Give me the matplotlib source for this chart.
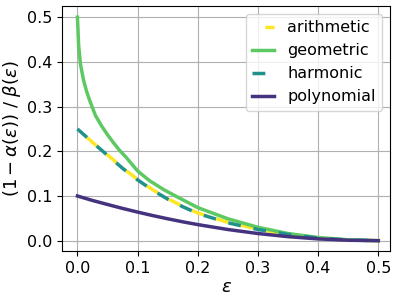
import numpy as np
import matplotlib
matplotlib.use("Agg")
import matplotlib.pyplot as plt

# values
eps_geo = [0, 0.002, 0.005, 0.01, 0.015, 0.02, 0.03, 0.04, 0.05, 0.06, 0.07, 0.08,
           0.1, 0.12, 0.145, 0.17, 0.2, 0.25, 0.3, 0.35, 0.4, 0.45, 0.5]
geometric = [0.5, 0.438, 0.395, 0.36, 0.335, 0.315, 0.28, 0.257, 0.237, 0.219, 0.202, 0.188,
             0.156, 0.134, 0.113, 0.095, 0.074, 0.049, 0.03, 0.016, 0.007, 0.002, 0.0]

eps = [0, 0.025, 0.05, 0.075, 0.1, 0.125, 0.15, 0.175, 0.2, 0.25, 0.3, 0.35, 0.4, 0.45, 0.5]
arithmetic = [0.25, 0.22, 0.192, 0.163, 0.137, 0.114, 0.094, 0.077, 0.062, 0.041, 0.026, 0.014, 0.006, 0.0015, 0.0]
harmonic = [0.25, 0.22, 0.191, 0.162, 0.136, 0.113, 0.093, 0.076, 0.061, 0.04, 0.025, 0.014, 0.006, 0.0015, 0.0]
polynomial = [0.1, 0.09, 0.081, 0.0722, 0.064, 0.0562, 0.049, 0.0422, 0.036, 0.025, 0.016, 0.009, 0.004, 0.001, 0.0]

plt.rcParams['font.size'] = 11.5

fig = plt.figure(figsize=(3.98, 3.02), dpi=100)
ax = fig.add_subplot(111)
fig.subplots_adjust(left=0.156, right=0.98, top=0.98, bottom=0.169)

lw = 2.5
ax.plot(eps, arithmetic, color='#fde725', lw=lw, linestyle=(3.7, (3.7, 3.7)), label='arithmetic')
ax.plot(eps_geo, geometric, color='#5ec962', lw=lw, label='geometric')
ax.plot(eps, harmonic, color='#21918c', lw=lw, linestyle=(0, (3.7, 3.7)), label='harmonic')
ax.plot(eps, polynomial, color='#46337f', lw=lw, label='polynomial')

ax.set_xlim(-0.0255, 0.5195)
ax.set_ylim(-0.023, 0.525)
ax.set_xticks([0.0, 0.1, 0.2, 0.3, 0.4, 0.5])
ax.set_yticks([0.0, 0.1, 0.2, 0.3, 0.4, 0.5])
ax.grid(True)
ax.set_xlabel(r'$\varepsilon$', fontsize=13, labelpad=2)
ax.set_ylabel(r'$(1-\alpha(\varepsilon))\ /\ \beta(\varepsilon)$', fontsize=13, labelpad=3)
ax.legend(loc='upper right', handlelength=1.4)

plt.savefig('out.png', dpi=100)
